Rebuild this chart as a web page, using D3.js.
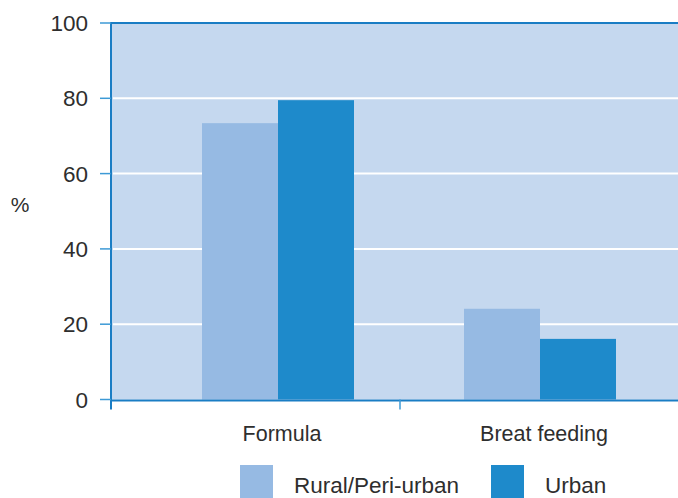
<!DOCTYPE html>
<html><head><meta charset="utf-8">
<script src="https://cdn.jsdelivr.net/npm/d3@7"></script>
<style>body{margin:0;background:#fff}svg{display:block}text{font-family:"Helvetica Neue",Helvetica,"Liberation Sans",Arial,sans-serif;fill:#2e2e2e}</style>
</head><body><svg id="c" width="678" height="498"></svg>
<script>
const categories = ["Formula", "Breat feeding"];
const seriesNames = ["Rural/Peri-urban", "Urban"];
const ruralValues = [73.4, 24.1];
const urbanValues = [79.5, 16.1];
const yTicks = [0, 20, 40, 60, 80, 100];

const colors = {"Rural/Peri-urban": "#96BAE3", "Urban": "#1E8ACB"};
const svg = d3.select("#c");
const pLeft = 111, pRight = 690, pTop = 23, pBottom = 399.5;

const y = d3.scaleLinear().domain([0, 100]).range([pBottom, pTop]);
const x0 = d3.scaleBand().domain(categories).range([147, 671]).padding(0);
const x1 = d3.scaleBand().domain(seriesNames).range([0, 152]).padding(0);
const groupOff = (x0.bandwidth() - 152) / 2;

// background
svg.append("rect").attr("x", pLeft).attr("y", pTop).attr("width", pRight - pLeft).attr("height", pBottom - pTop).attr("fill", "#C5D8EF");

// gridlines
svg.append("g").selectAll("line").data(yTicks.filter(d => d > 0 && d < 100)).join("line")
  .attr("x1", pLeft + 2).attr("x2", pRight).attr("y1", d => y(d)).attr("y2", d => y(d))
  .attr("stroke", "#fff").attr("stroke-width", 2);

// bars
const data = categories.map((c, i) => ({cat: c, vals: [{s: seriesNames[0], v: ruralValues[i]}, {s: seriesNames[1], v: urbanValues[i]}]}));
svg.append("g").selectAll("g").data(data).join("g")
  .attr("transform", d => `translate(${x0(d.cat) + groupOff},0)`)
  .selectAll("rect").data(d => d.vals).join("rect")
  .attr("x", d => x1(d.s)).attr("width", x1.bandwidth())
  .attr("y", d => y(d.v)).attr("height", d => pBottom - y(d.v))
  .attr("fill", d => colors[d.s]);

// axes lines
svg.append("line").attr("x1", pLeft).attr("x2", pLeft).attr("y1", pTop - 1).attr("y2", pBottom + 10).attr("stroke", "#1A7DC4").attr("stroke-width", 2);
svg.append("line").attr("x1", pLeft).attr("x2", pRight).attr("y1", pTop).attr("y2", pTop).attr("stroke", "#1A7DC4").attr("stroke-width", 2);
svg.append("line").attr("x1", pLeft).attr("x2", pRight).attr("y1", pBottom + 1).attr("y2", pBottom + 1).attr("stroke", "#1A7DC4").attr("stroke-width", 2);

// y ticks
const yAxis = svg.append("g");
yAxis.selectAll("line").data(yTicks).join("line")
  .attr("x1", 100).attr("x2", pLeft).attr("y1", d => y(d)).attr("y2", d => y(d))
  .attr("stroke", "#3D9AD6").attr("stroke-width", 1.5);
yAxis.selectAll("text").data(yTicks).join("text")
  .attr("x", 88).attr("y", d => y(d)).attr("dy", "0.36em").attr("text-anchor", "end")
  .attr("font-size", 22.5).text(d => d);

// x tick at category boundary
svg.append("line").attr("x1", 400).attr("x2", 400).attr("y1", pBottom).attr("y2", pBottom + 10).attr("stroke", "#3D9AD6").attr("stroke-width", 1.5);

// category labels
svg.append("g").selectAll("text").data(categories).join("text")
  .attr("x", d => x0(d) + x0.bandwidth() / 2 + 4).attr("y", 441).attr("text-anchor", "middle")
  .attr("font-size", 21.5).text(d => d);

// y label
svg.append("text").attr("x", 20).attr("y", 212).attr("text-anchor", "middle").attr("font-size", 21).text("%");

// legend
const legX = [240, 491];
const lg = svg.append("g").selectAll("g").data(seriesNames).join("g")
  .attr("transform", (d, i) => `translate(${legX[i]},465)`);
lg.append("rect").attr("width", 33).attr("height", 34).attr("fill", d => colors[d]);
lg.append("text").attr("x", 54).attr("y", 28).attr("font-size", 22.5).text(d => d);
</script></body></html>
